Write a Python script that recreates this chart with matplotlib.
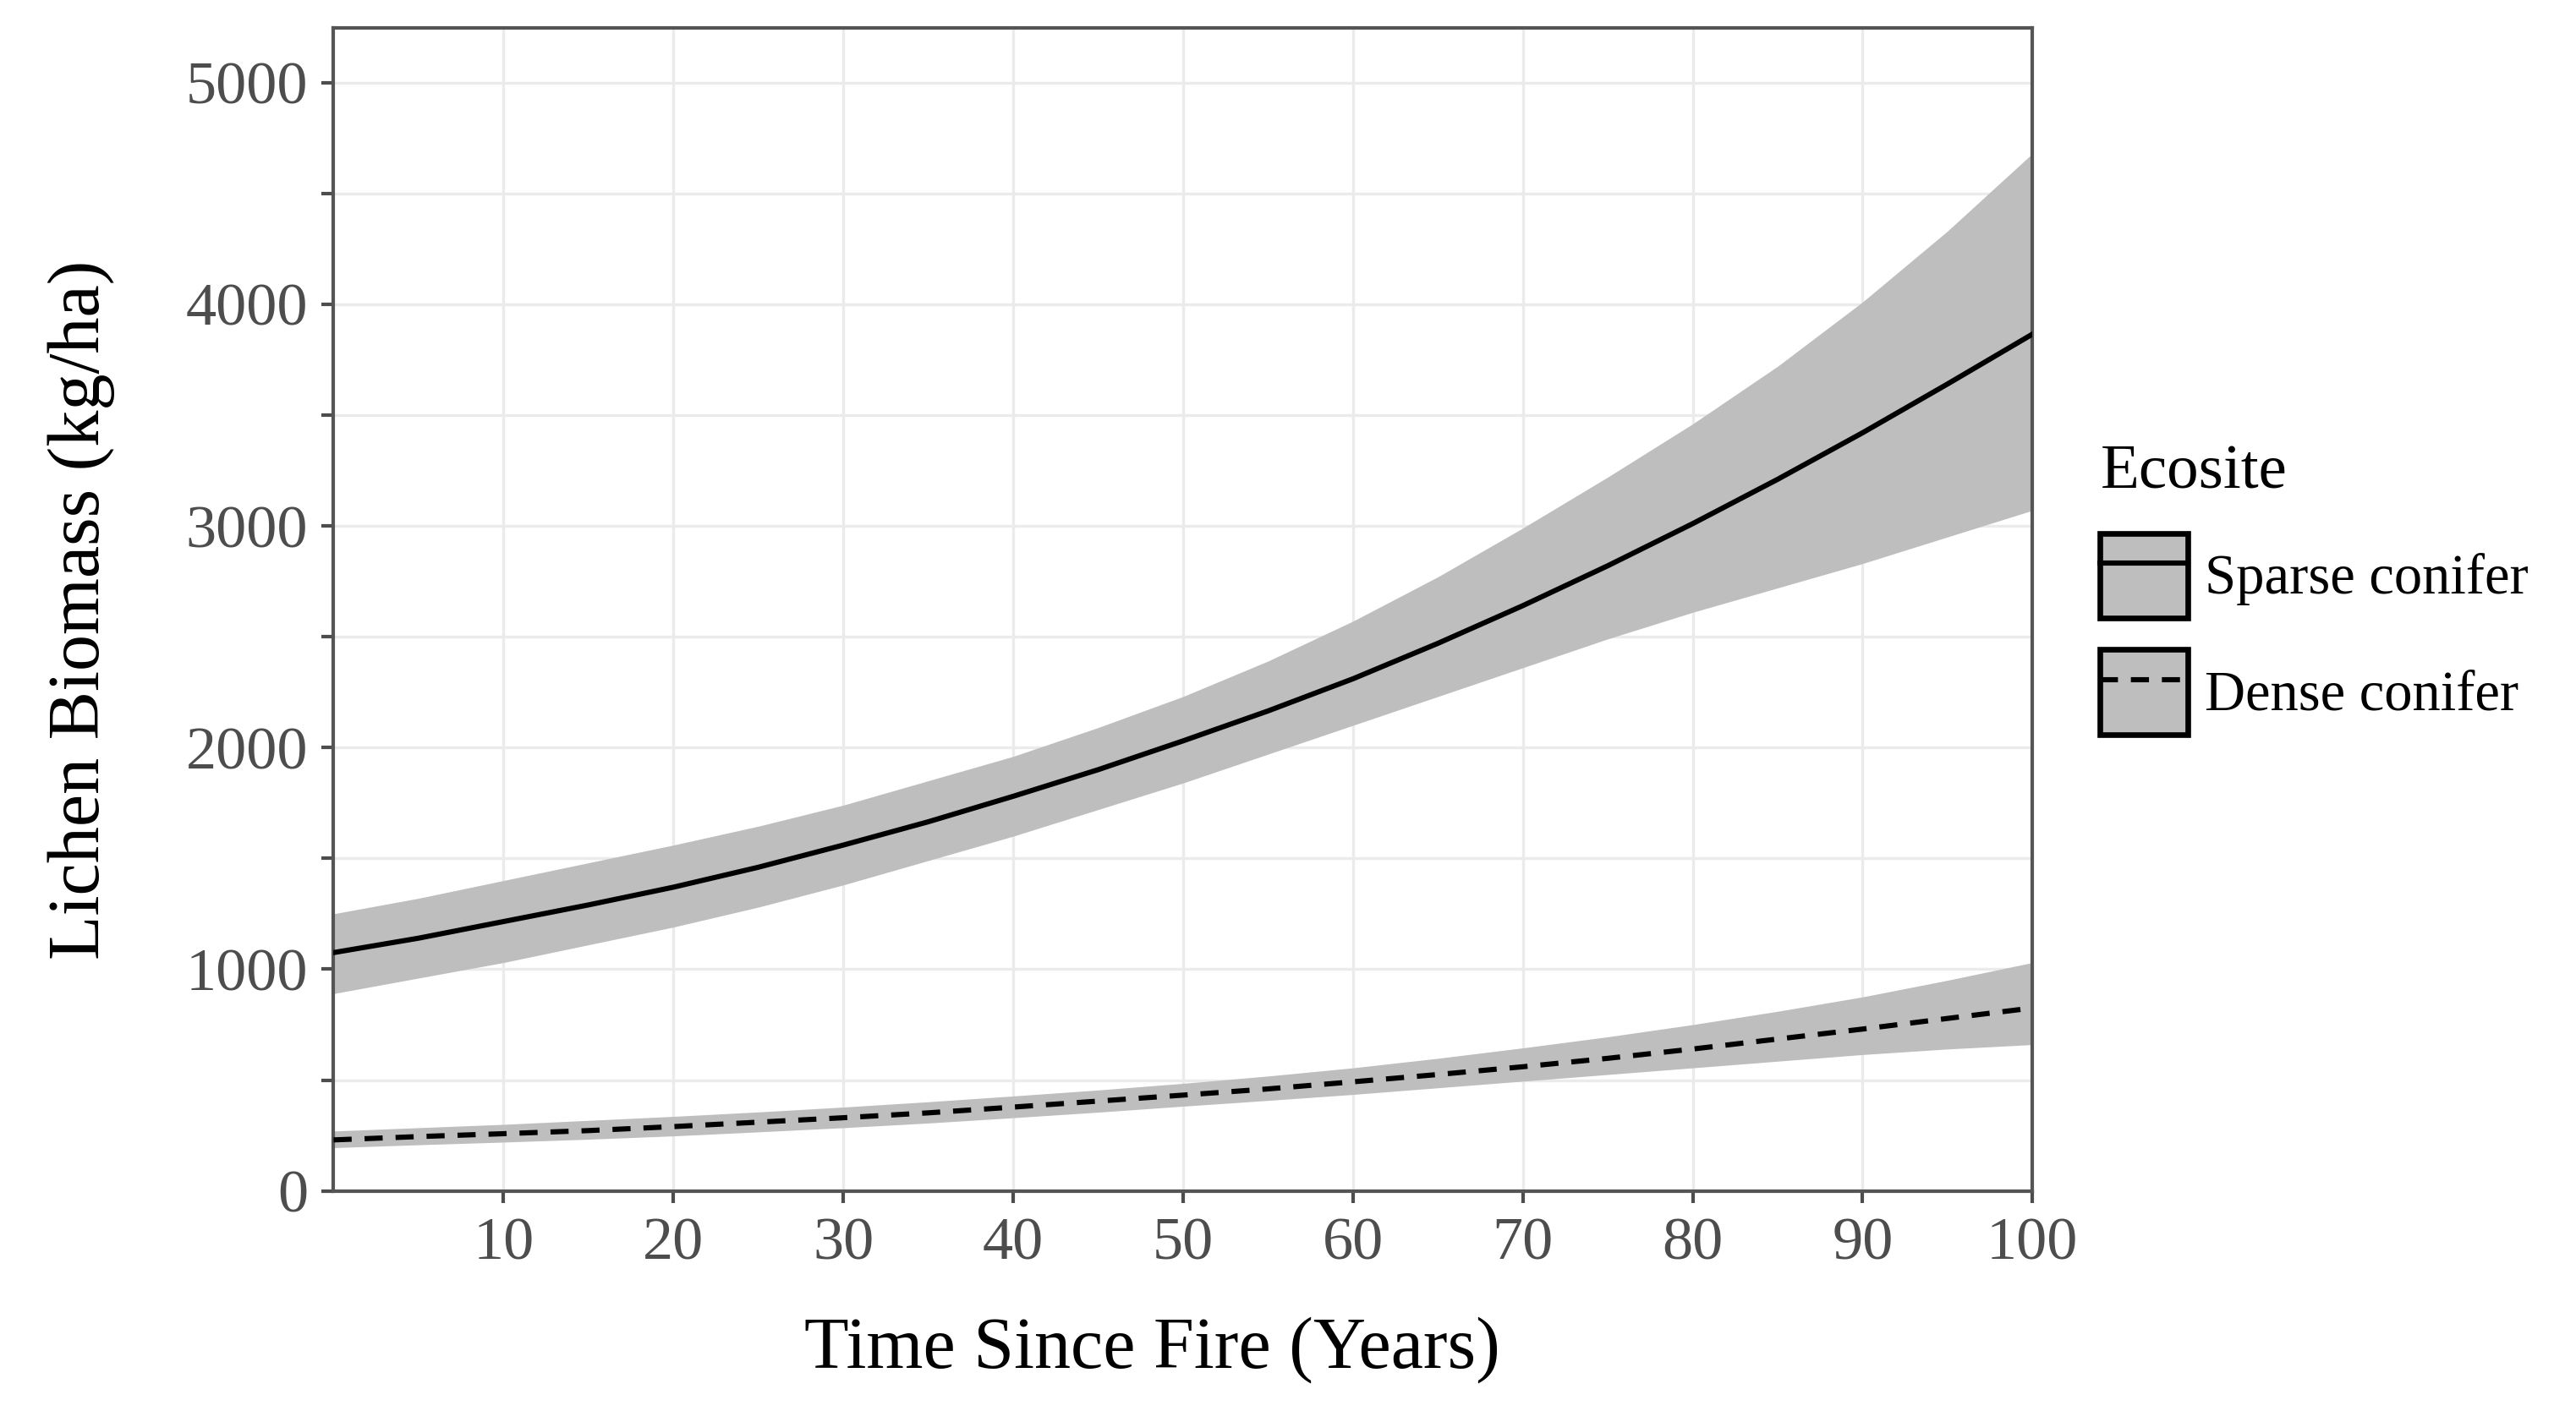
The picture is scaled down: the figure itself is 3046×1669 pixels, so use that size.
import matplotlib.pyplot as plt
from matplotlib.patches import Patch
from matplotlib.lines import Line2D

# years since fire (read every 5 yrs)
years = [0, 5, 10, 15, 20, 25, 30, 35, 40, 45, 50, 55, 60, 65, 70, 75, 80, 85, 90, 95, 100]

sparse_mean = [1075, 1140, 1215, 1290, 1370, 1460, 1560, 1665, 1780, 1900, 2030,
               2165, 2310, 2470, 2640, 2820, 3010, 3210, 3420, 3640, 3865]
sparse_hi = [1250, 1320, 1400, 1480, 1560, 1645, 1740, 1850, 1960, 2090, 2230,
             2390, 2570, 2770, 2990, 3220, 3460, 3720, 4010, 4330, 4680]
sparse_lo = [890, 960, 1030, 1110, 1190, 1280, 1380, 1490, 1600, 1720, 1840,
             1970, 2100, 2230, 2360, 2490, 2610, 2720, 2830, 2950, 3070]

dense_mean = [230, 245, 258, 272, 290, 310, 330, 352, 378, 405, 432,
              460, 492, 525, 560, 598, 640, 685, 730, 778, 825]
dense_hi = [270, 285, 300, 318, 336, 356, 378, 402, 428, 455, 485,
            518, 555, 598, 645, 695, 750, 810, 875, 950, 1030]
dense_lo = [195, 208, 220, 233, 248, 266, 285, 306, 330, 355, 382,
            408, 435, 465, 495, 525, 555, 585, 615, 640, 660]

xticks = [10, 20, 30, 40, 50, 60, 70, 80, 90, 100]
yticks = [0, 500, 1000, 1500, 2000, 2500, 3000, 3500, 4000, 4500, 5000]
ylabels = ['0', '', '1000', '', '2000', '', '3000', '', '4000', '', '5000']

band = '#bebebe'
grey = '#4d4d4d'
plt.rcParams['font.family'] = ['Liberation Serif', 'DejaVu Serif']

fig = plt.figure(figsize=(15.23, 8.345), dpi=200)
ax = fig.add_axes([0.1295, 0.156, 0.6595, 0.824])

ax.fill_between(years, sparse_lo, sparse_hi, color=band, lw=0, zorder=2)
ax.fill_between(years, dense_lo, dense_hi, color=band, lw=0, zorder=2)
ax.plot(years, sparse_mean, color='black', lw=2.2, zorder=3)
ax.plot(years, dense_mean, color='black', lw=2.2, ls=(0, (3.5, 2.5)), zorder=3)

ax.set_xlim(0, 100)
ax.set_ylim(0, 5245)
ax.set_xticks(xticks)
ax.set_yticks(yticks)
ax.set_yticklabels(ylabels)
ax.grid(True, color='#ebebeb', lw=1.2, zorder=0)
ax.set_axisbelow(True)

for s in ax.spines.values():
    s.set_color('#555555')
    s.set_linewidth(1.5)
ax.tick_params(colors=grey, labelsize=26, length=5, width=1.5, pad=6)

ax.set_xlabel('Time Since Fire (Years)', fontsize=31)
ax.xaxis.set_label_coords(0.482, -0.108)
ax.set_ylabel('Lichen Biomass (kg/ha)', fontsize=31, labelpad=30)

h1 = (Patch(facecolor=band, edgecolor='black', lw=2.4),
      Line2D([], [], color='black', lw=2.2))
h2 = (Patch(facecolor=band, edgecolor='black', lw=2.4),
      Line2D([], [], color='black', lw=2.2, ls=(0, (3.5, 2.5))))
leg = ax.legend([h1, h2], ['Sparse conifer', 'Dense conifer'], title='Ecosite',
                loc='center left', bbox_to_anchor=(1.01, 0.517), frameon=False,
                fontsize=24, title_fontsize=27, handlelength=1.55, handleheight=1.95,
                labelspacing=0.55, handletextpad=0.3)
leg._legend_box.align = 'left'

fig.savefig('out.png', dpi=200)
